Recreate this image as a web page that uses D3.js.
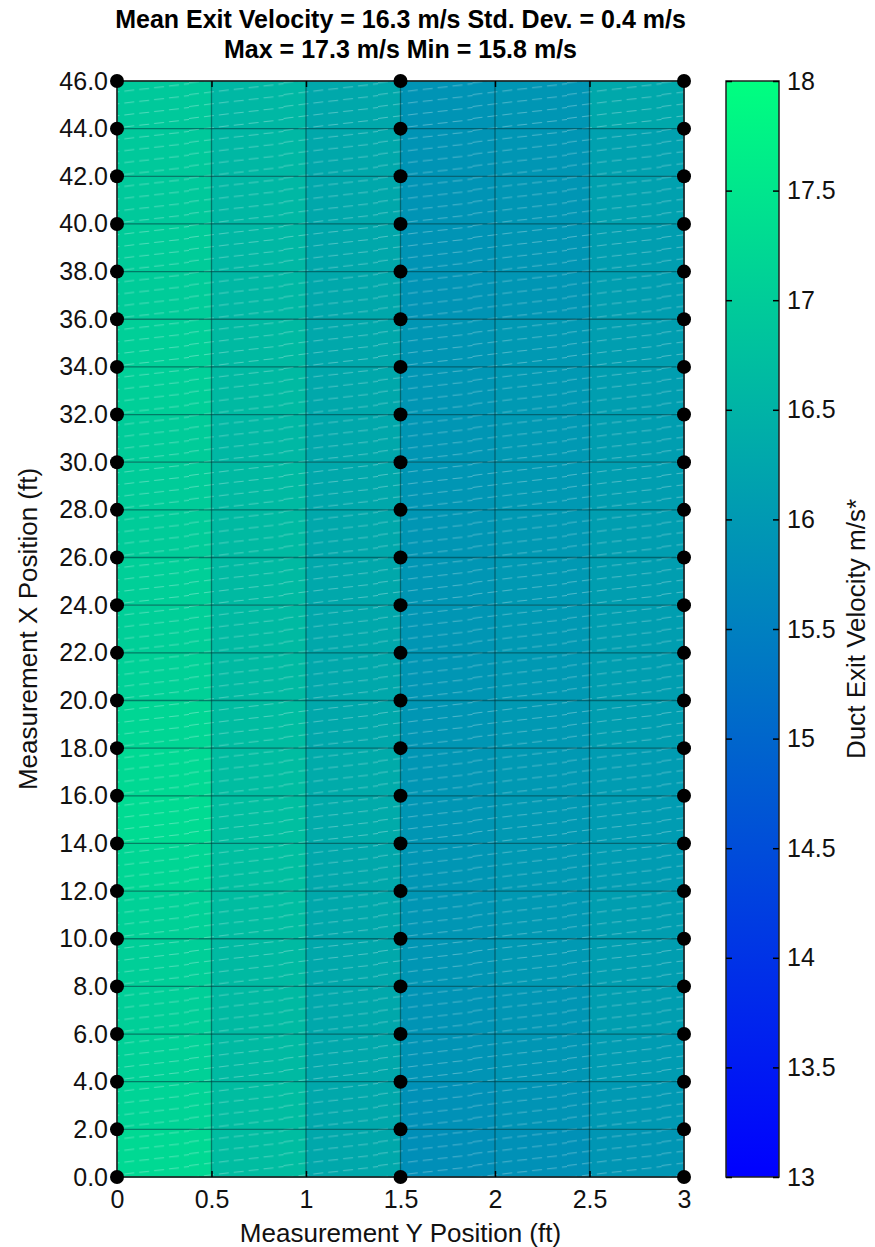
<!DOCTYPE html>
<html>
<head>
<meta charset="utf-8">
<script src="https://cdnjs.cloudflare.com/ajax/libs/d3/7.8.5/d3.min.js"></script>
<style>
body { margin: 0; background: #fff; }
text { font-family: "Liberation Sans", Arial, sans-serif; }
</style>
</head>
<body>
<div class="container"></div>
<script>
// grid edges (ft)
var yEdges = [0, 0.5, 1, 1.5, 2, 2.5, 3];
var xEdges = [0, 2, 4, 6, 8, 10, 12, 14, 16, 18, 20, 22, 24, 26, 28, 30, 32, 34, 36, 38, 40, 42, 44, 46];

// measurement points
var probeY = [0, 1.5, 3];
var probeX = [0, 2, 4, 6, 8, 10, 12, 14, 16, 18, 20, 22, 24, 26, 28, 30, 32, 34, 36, 38, 40, 42, 44, 46];

// cell velocities (m/s), one array per Y strip, from X=0 upward
var col1 = [17.25, 17.15, 17.1, 17.05, 17.05, 17.1, 17.2, 17.3, 17.25, 17.2, 17.1, 17.05, 17.05, 17.0, 17.0, 17.0, 17.05, 17.05, 17.0, 17.0, 16.95, 16.95, 16.95];
var col2 = [16.7, 16.7, 16.65, 16.65, 16.65, 16.7, 16.75, 16.75, 16.7, 16.7, 16.65, 16.65, 16.65, 16.65, 16.65, 16.6, 16.65, 16.65, 16.6, 16.6, 16.6, 16.6, 16.6];
var col3 = [16.3, 16.3, 16.3, 16.3, 16.3, 16.3, 16.3, 16.35, 16.35, 16.3, 16.3, 16.3, 16.3, 16.3, 16.3, 16.3, 16.3, 16.3, 16.3, 16.3, 16.3, 16.3, 16.3];
var col4 = [15.8, 15.85, 15.9, 15.9, 15.95, 15.95, 15.95, 15.95, 15.95, 15.95, 15.95, 15.95, 15.95, 15.95, 15.95, 15.95, 15.95, 15.95, 15.9, 15.9, 15.9, 15.9, 15.9];
var col5 = [15.85, 15.9, 15.95, 15.95, 16.0, 16.0, 16.0, 16.0, 16.0, 16.0, 16.0, 16.0, 16.0, 16.0, 16.0, 16.0, 16.0, 16.0, 15.95, 15.95, 15.95, 15.95, 15.95];
var col6 = [15.95, 16.0, 16.05, 16.1, 16.1, 16.1, 16.05, 16.05, 16.05, 16.1, 16.1, 16.1, 16.1, 16.1, 16.1, 16.1, 16.1, 16.1, 16.1, 16.1, 16.15, 16.15, 16.3];
var columns = [col1, col2, col3, col4, col5, col6];

// tick labels
var xTickVals = [0, 0.5, 1, 1.5, 2, 2.5, 3];
var yTickVals = [0, 2, 4, 6, 8, 10, 12, 14, 16, 18, 20, 22, 24, 26, 28, 30, 32, 34, 36, 38, 40, 42, 44, 46];
var cbTickVals = [13, 13.5, 14, 14.5, 15, 15.5, 16, 16.5, 17, 17.5, 18];

var titleLines = ["Mean Exit Velocity = 16.3 m/s Std. Dev. = 0.4 m/s", "Max = 17.3 m/s Min = 15.8 m/s"];

var opts = {
	width: 875,
	height: 1247,
	left: 117,
	right: 684,
	top: 81,
	bottom: 1177,
	cbLeft: 726,
	cbRight: 779
};

var svg = d3.select(".container")
.append("svg")
.attr("width", opts.width)
.attr("height", opts.height);

var xScale = d3.scaleLinear().domain([0, 3]).range([opts.left, opts.right]);
var yScale = d3.scaleLinear().domain([0, 46]).range([opts.bottom, opts.top]);
var color = d3.scaleSequential(d3.interpolateRgb("#0000ff", "#00ff80")).domain([13, 18]);
var cbScale = d3.scaleLinear().domain([13, 18]).range([opts.bottom, opts.top]);

// cells
var cells = [];
columns.forEach(function(col, i){
	col.forEach(function(v, j){
		cells.push({y0: yEdges[i], y1: yEdges[i + 1], x0: xEdges[j], x1: xEdges[j + 1], v: v});
	});
});

var plot = svg.append("g");
plot.selectAll("rect.cell").data(cells).enter().append("rect")
.attr("class", "cell")
.attr("x", function(d){ return xScale(d.y0); })
.attr("y", function(d){ return yScale(d.x1); })
.attr("width", function(d){ return xScale(d.y1) - xScale(d.y0) + 0.5; })
.attr("height", function(d){ return yScale(d.x0) - yScale(d.x1) + 0.5; })
.style("fill", function(d){ return color(d.v); });

// faint render seams like the original
var defs = svg.append("defs");
var pat = defs.append("pattern")
.attr("id", "seams")
.attr("patternUnits", "userSpaceOnUse")
.attr("width", 94.5)
.attr("height", 11.9);
pat.append("line")
.attr("x1", 0).attr("y1", 11.4).attr("x2", 94.5).attr("y2", 0.5)
.style("stroke", "#fff")
.style("stroke-opacity", 0.3)
.style("stroke-width", 1)
.style("stroke-dasharray", "10,5");
plot.append("rect")
.attr("x", opts.left).attr("y", opts.top)
.attr("width", opts.right - opts.left).attr("height", opts.bottom - opts.top)
.style("fill", "url(#seams)");

// mesh lines
plot.selectAll("line.vgrid").data(yEdges).enter().append("line")
.attr("class", "vgrid")
.attr("x1", function(d){ return xScale(d); }).attr("x2", function(d){ return xScale(d); })
.attr("y1", opts.top).attr("y2", opts.bottom)
.style("stroke", "#00363c").style("stroke-opacity", 0.55).style("stroke-width", 1.3);
plot.selectAll("line.hgrid").data(xEdges).enter().append("line")
.attr("class", "hgrid")
.attr("y1", function(d){ return yScale(d); }).attr("y2", function(d){ return yScale(d); })
.attr("x1", opts.left).attr("x2", opts.right)
.style("stroke", "#00363c").style("stroke-opacity", 0.55).style("stroke-width", 1.3);

// axes box
svg.append("rect")
.attr("x", opts.left).attr("y", opts.top)
.attr("width", opts.right - opts.left).attr("height", opts.bottom - opts.top)
.style("fill", "none").style("stroke", "#222").style("stroke-width", 1.5);

var tickLen = 6;
var bottomAxis = d3.axisBottom(xScale).tickValues(xTickVals).tickFormat(d3.format("")).tickSizeInner(-tickLen).tickSizeOuter(0).tickPadding(13);
var topAxis = d3.axisTop(xScale).tickValues(xTickVals).tickFormat("").tickSizeInner(-tickLen).tickSizeOuter(0);
var leftAxis = d3.axisLeft(yScale).tickValues(yTickVals).tickFormat(d3.format(".1f")).tickSizeInner(-tickLen).tickSizeOuter(0).tickPadding(9);
var rightAxis = d3.axisRight(yScale).tickValues(yTickVals).tickFormat("").tickSizeInner(-tickLen).tickSizeOuter(0);

function styleAxis(g){
	g.select(".domain").remove();
	g.selectAll("line").style("stroke", "#000").style("stroke-width", 1.5);
	g.selectAll("text").style("font-size", "25px").style("fill", "#111");
}

svg.append("g").attr("transform", "translate(0," + opts.bottom + ")").call(bottomAxis).call(styleAxis);
svg.append("g").attr("transform", "translate(0," + opts.top + ")").call(topAxis).call(styleAxis);
svg.append("g").attr("transform", "translate(" + opts.left + ",0)").call(leftAxis).call(styleAxis);
svg.append("g").attr("transform", "translate(" + opts.right + ",0)").call(rightAxis).call(styleAxis);

// measurement dots
var probes = [];
probeY.forEach(function(py){
	probeX.forEach(function(px){ probes.push({y: py, x: px}); });
});
svg.append("g").selectAll("circle").data(probes).enter().append("circle")
.attr("cx", function(d){ return xScale(d.y); })
.attr("cy", function(d){ return yScale(d.x); })
.attr("r", 7)
.style("fill", "#000");

// colorbar
var grad = defs.append("linearGradient")
.attr("id", "cbGrad")
.attr("x1", 0).attr("y1", 1).attr("x2", 0).attr("y2", 0);
grad.selectAll("stop").data(cbTickVals).enter().append("stop")
.attr("offset", function(d){ return (d - 13) / 5; })
.attr("stop-color", function(d){ return color(d); });

svg.append("rect")
.attr("x", opts.cbLeft).attr("y", opts.top)
.attr("width", opts.cbRight - opts.cbLeft).attr("height", opts.bottom - opts.top)
.style("fill", "url(#cbGrad)")
.style("stroke", "#222").style("stroke-width", 1.5);

var cbAxis = d3.axisRight(cbScale).tickValues(cbTickVals).tickFormat(d3.format("")).tickSizeInner(-tickLen).tickSizeOuter(0).tickPadding(8);
var cbAxisL = d3.axisLeft(cbScale).tickValues(cbTickVals).tickFormat("").tickSizeInner(-tickLen).tickSizeOuter(0);
svg.append("g").attr("transform", "translate(" + opts.cbRight + ",0)").call(cbAxis).call(styleAxis);
svg.append("g").attr("transform", "translate(" + opts.cbLeft + ",0)").call(cbAxisL).call(styleAxis);

// titles and labels
svg.append("g").selectAll("text").data(titleLines).enter().append("text")
.attr("x", (opts.left + opts.right) / 2)
.attr("y", function(d, i){ return 28 + i * 30; })
.attr("text-anchor", "middle")
.style("font-size", "25px")
.style("font-weight", "bold")
.style("fill", "#000")
.text(function(d){ return d; });

svg.append("text")
.attr("x", (opts.left + opts.right) / 2)
.attr("y", 1242)
.attr("text-anchor", "middle")
.style("font-size", "26px")
.style("fill", "#111")
.text("Measurement Y Position (ft)");

svg.append("text")
.attr("transform", "translate(37," + ((opts.top + opts.bottom) / 2) + ") rotate(-90)")
.attr("text-anchor", "middle")
.style("font-size", "26px")
.style("fill", "#111")
.text("Measurement X Position (ft)");

svg.append("text")
.attr("transform", "translate(865," + ((opts.top + opts.bottom) / 2) + ") rotate(-90)")
.attr("text-anchor", "middle")
.style("font-size", "26px")
.style("fill", "#111")
.text("Duct Exit Velocity m/s*");
</script>
</body>
</html>
